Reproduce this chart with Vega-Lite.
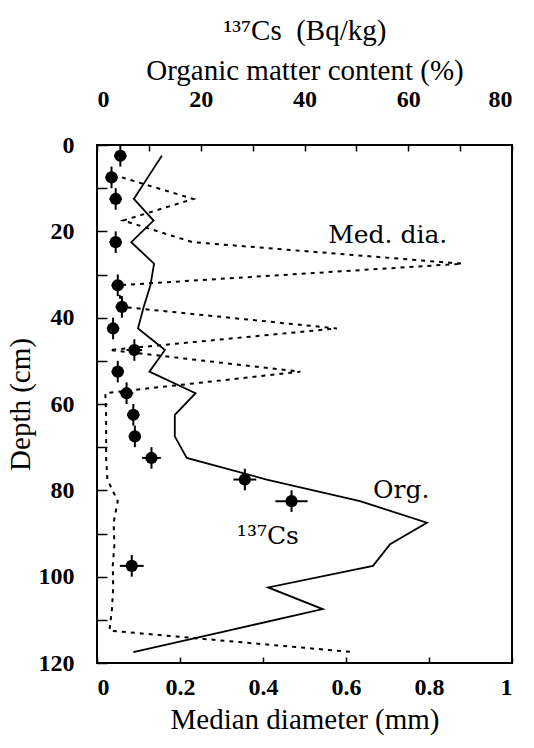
{
  "$schema": "https://vega.github.io/schema/vega-lite/v6.json",
  "width": 415,
  "height": 518,
  "autosize": "none",
  "padding": {"left": 97, "top": 145, "right": 22, "bottom": 85},
  "background": "white",
  "config": {
    "view": {"stroke": "black", "strokeWidth": 2},
    "axis": {
      "domain": false,
      "grid": false,
      "tickColor": "black",
      "tickWidth": 1.5,
      "labelFont": "Liberation Serif",
      "labelFontSize": 24,
      "labelFontWeight": "bold",
      "labelColor": "black",
      "titleFont": "Liberation Serif",
      "titleFontSize": 29,
      "titleFontWeight": "normal",
      "titleColor": "black"
    }
  },
  "layer": [
    {
      "layer": [
        {
          "data": {"values": [
            {"depth": 7.5, "dia": 0.06},
            {"depth": 12.5, "dia": 0.232},
            {"depth": 17.5, "dia": 0.063},
            {"depth": 22.5, "dia": 0.23},
            {"depth": 27.5, "dia": 0.88},
            {"depth": 32.5, "dia": 0.05},
            {"depth": 37.5, "dia": 0.06},
            {"depth": 42.5, "dia": 0.578},
            {"depth": 47.5, "dia": 0.03},
            {"depth": 52.5, "dia": 0.49},
            {"depth": 57.5, "dia": 0.02},
            {"depth": 62.5, "dia": 0.022},
            {"depth": 67.5, "dia": 0.022},
            {"depth": 72.5, "dia": 0.022},
            {"depth": 77.5, "dia": 0.025},
            {"depth": 82.5, "dia": 0.05},
            {"depth": 87.5, "dia": 0.04},
            {"depth": 92.5, "dia": 0.042},
            {"depth": 97.5, "dia": 0.038},
            {"depth": 102.5, "dia": 0.039},
            {"depth": 107.5, "dia": 0.036},
            {"depth": 112.5, "dia": 0.03},
            {"depth": 117.5, "dia": 0.62}
          ]},
          "mark": {"type": "line", "color": "black", "strokeWidth": 2, "strokeDash": [4, 5]},
          "encoding": {
            "x": {"field": "dia", "type": "quantitative", "title": "Median diameter (mm)",
              "scale": {"domain": [0, 1], "nice": false, "zero": false},
              "axis": {"orient": "bottom", "values": [0, 0.2, 0.4, 0.6, 0.8, 1], "format": ".1~f", "tickSize": -6, "labelPadding": 18, "titlePadding": 6}},
            "y": {"field": "depth", "type": "quantitative", "title": "Depth (cm)",
              "scale": {"domain": [0, 120], "reverse": true, "nice": false, "zero": false},
              "axis": {"values": [0, 10, 20, 30, 40, 50, 60, 70, 80, 90, 100, 110, 120], "labelExpr": "datum.value % 20 == 0 ? datum.label : ''", "tickSize": -10, "labelPadding": 33, "titlePadding": 3}},
            "order": {"field": "depth", "type": "quantitative"}
          }
        },
        {
          "data": {"values": [
            {"label": "Med. dia.", "dia": 0.557, "depth": 22.8},
            {"label": "Org.", "dia": 0.665, "depth": 81.8},
            {"label": "¹³⁷Cs", "dia": 0.337, "depth": 92.5}
          ]},
          "mark": {"type": "text", "font": "DejaVu Serif", "fontSize": 25, "align": "left", "baseline": "alphabetic", "color": "black"},
          "encoding": {
            "x": {"field": "dia", "type": "quantitative", "title": "Median diameter (mm)"},
            "y": {"field": "depth", "type": "quantitative", "title": "Depth (cm)"},
            "text": {"field": "label"}
          }
        }
      ]
    },
    {
      "layer": [
        {
          "data": {"values": [
            {"depth": 2.5, "top": 12.5},
            {"depth": 7.5, "top": 9.8},
            {"depth": 12.5, "top": 7.1},
            {"depth": 17.5, "top": 10.9},
            {"depth": 22.5, "top": 6.6},
            {"depth": 27.5, "top": 11.0},
            {"depth": 32.5, "top": 10.3},
            {"depth": 37.5, "top": 9.0},
            {"depth": 42.5, "top": 7.9},
            {"depth": 47.5, "top": 13.1},
            {"depth": 52.5, "top": 10.1},
            {"depth": 57.5, "top": 19.0},
            {"depth": 62.5, "top": 15.0},
            {"depth": 67.5, "top": 15.0},
            {"depth": 72.5, "top": 17.3},
            {"depth": 77.5, "top": 32.7},
            {"depth": 82.5, "top": 50.7},
            {"depth": 87.5, "top": 63.6},
            {"depth": 92.5, "top": 56.5},
            {"depth": 97.5, "top": 53.2},
            {"depth": 102.5, "top": 33.0},
            {"depth": 107.5, "top": 43.5},
            {"depth": 112.5, "top": 25.3},
            {"depth": 117.5, "top": 7.0}
          ]},
          "mark": {"type": "line", "color": "black", "strokeWidth": 1.8},
          "encoding": {
            "x": {"field": "top", "type": "quantitative", "title": ["¹³⁷Cs\u00a0\u00a0(Bq/kg)", "Organic matter content (%)"],
              "scale": {"domain": [0, 80], "nice": false, "zero": false},
              "axis": {"orient": "top", "values": [0, 10, 20, 30, 40, 50, 60, 70, 80], "labelExpr": "datum.value % 20 == 0 ? datum.label : ''", "tickSize": -6, "labelPadding": 40, "titlePadding": 2, "titleLineHeight": 40}},
            "y": {"field": "depth", "type": "quantitative", "title": "Depth (cm)"},
            "order": {"field": "depth", "type": "quantitative"}
          }
        },
        {
          "data": {"name": "cs", "values": [
            {"depth": 2.5, "top": 4.5, "lo": 3.3, "hi": 5.7, "dlo": 0, "dhi": 5},
            {"depth": 7.5, "top": 2.8, "lo": 1.6, "hi": 4.0, "dlo": 5, "dhi": 10},
            {"depth": 12.5, "top": 3.6, "lo": 2.4, "hi": 4.8, "dlo": 10, "dhi": 15},
            {"depth": 22.5, "top": 3.6, "lo": 2.4, "hi": 4.8, "dlo": 20, "dhi": 25},
            {"depth": 32.5, "top": 4.0, "lo": 2.8, "hi": 5.2, "dlo": 30, "dhi": 35},
            {"depth": 37.5, "top": 4.8, "lo": 3.6, "hi": 6.0, "dlo": 35, "dhi": 40},
            {"depth": 42.5, "top": 3.1, "lo": 1.9, "hi": 4.3, "dlo": 40, "dhi": 45},
            {"depth": 47.5, "top": 7.2, "lo": 5.7, "hi": 8.7, "dlo": 45, "dhi": 50},
            {"depth": 52.5, "top": 4.0, "lo": 2.8, "hi": 5.2, "dlo": 50, "dhi": 55},
            {"depth": 57.5, "top": 5.7, "lo": 4.4, "hi": 7.0, "dlo": 55, "dhi": 60},
            {"depth": 62.5, "top": 7.0, "lo": 5.8, "hi": 8.2, "dlo": 60, "dhi": 65},
            {"depth": 67.5, "top": 7.3, "lo": 6.1, "hi": 8.5, "dlo": 65, "dhi": 70},
            {"depth": 72.5, "top": 10.5, "lo": 8.7, "hi": 12.3, "dlo": 70, "dhi": 75},
            {"depth": 77.5, "top": 28.5, "lo": 26.3, "hi": 30.7, "dlo": 75, "dhi": 80},
            {"depth": 82.5, "top": 37.5, "lo": 34.4, "hi": 40.6, "dlo": 80, "dhi": 85},
            {"depth": 97.5, "top": 6.7, "lo": 4.4, "hi": 9.0, "dlo": 95, "dhi": 100}
          ]},
          "mark": {"type": "rule", "color": "black", "strokeWidth": 2},
          "encoding": {
            "x": {"field": "lo", "type": "quantitative", "title": ["¹³⁷Cs\u00a0\u00a0(Bq/kg)", "Organic matter content (%)"]},
            "x2": {"field": "hi"},
            "y": {"field": "depth", "type": "quantitative", "title": "Depth (cm)"}
          }
        },
        {
          "data": {"name": "cs"},
          "mark": {"type": "rule", "color": "black", "strokeWidth": 2},
          "encoding": {
            "x": {"field": "top", "type": "quantitative", "title": ["¹³⁷Cs\u00a0\u00a0(Bq/kg)", "Organic matter content (%)"]},
            "y": {"field": "dlo", "type": "quantitative", "title": "Depth (cm)"},
            "y2": {"field": "dhi"}
          }
        },
        {
          "data": {"name": "cs"},
          "mark": {"type": "point", "shape": "circle", "filled": true, "color": "black", "opacity": 1, "size": 150},
          "encoding": {
            "x": {"field": "top", "type": "quantitative", "title": ["¹³⁷Cs\u00a0\u00a0(Bq/kg)", "Organic matter content (%)"]},
            "y": {"field": "depth", "type": "quantitative", "title": "Depth (cm)"}
          }
        }
      ]
    }
  ],
  "resolve": {"scale": {"x": "independent"}, "axis": {"x": "independent"}}
}
